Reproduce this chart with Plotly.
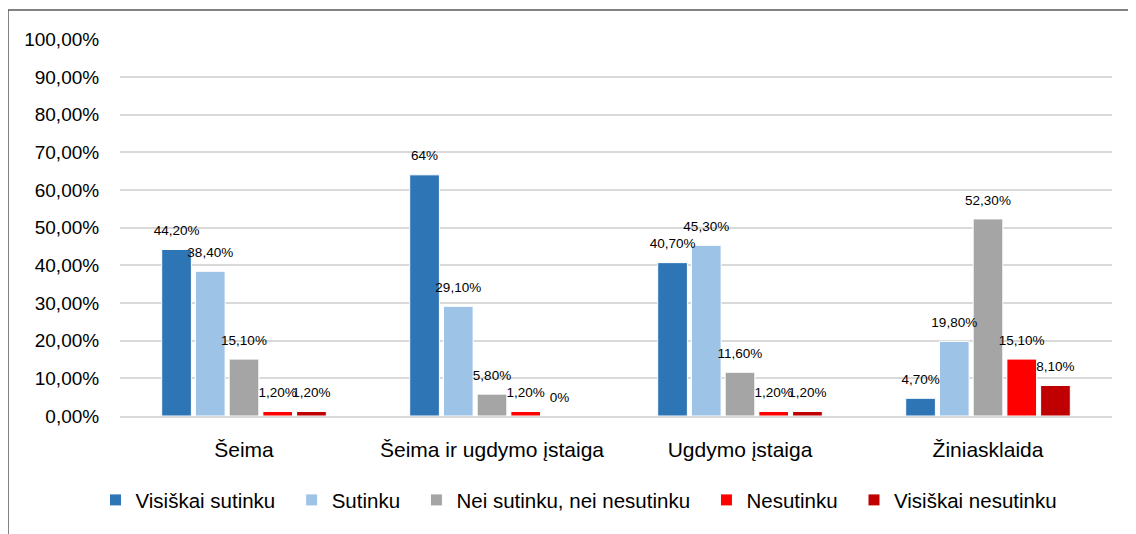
import plotly.graph_objects as go

categories = ["Šeima", "Šeima ir ugdymo įstaiga", "Ugdymo įstaiga", "Žiniasklaida"]
series_names = ["Visiškai sutinku", "Sutinku", "Nei sutinku, nei nesutinku", "Nesutinku", "Visiškai nesutinku"]
visiskai_sutinku = [0.442, 0.64, 0.407, 0.047]
sutinku = [0.384, 0.291, 0.453, 0.198]
nei_nei = [0.151, 0.058, 0.116, 0.523]
nesutinku = [0.012, 0.012, 0.012, 0.151]
visiskai_nesutinku = [0.012, 0.0, 0.012, 0.081]
labels_vs = ["44,20%", "64%", "40,70%", "4,70%"]
labels_s = ["38,40%", "29,10%", "45,30%", "19,80%"]
labels_nn = ["15,10%", "5,80%", "11,60%", "52,30%"]
labels_n = ["1,20%", "1,20%", "1,20%", "15,10%"]
labels_vn = ["1,20%", "0%", "1,20%", "8,10%"]
colors = ["#2E75B6", "#9DC3E6", "#A5A5A5", "#FF0000", "#C00000"]

values = [visiskai_sutinku, sutinku, nei_nei, nesutinku, visiskai_nesutinku]
labels = [labels_vs, labels_s, labels_nn, labels_n, labels_vn]

FONT = "Liberation Sans"
PAD = "\u00a0\u00a0"

fig = go.Figure()
for i, (name, vals, col) in enumerate(zip(series_names, values, colors)):
    legend_name = name + (PAD if i < len(series_names) - 1 else "")
    fig.add_trace(go.Bar(
        name=legend_name, x=categories, y=vals, offsetgroup=str(i),
        marker=dict(color=col, line=dict(color="white", width=1)),
        hoverinfo="skip",
    ))
for i, (name, vals, labs) in enumerate(zip(series_names, values, labels)):
    fig.add_trace(go.Scatter(
        x=categories, y=vals, text=labs, offsetgroup=str(i),
        mode="markers+text", textposition="top center", cliponaxis=False,
        marker=dict(size=16, opacity=0), showlegend=False, hoverinfo="skip",
        textfont=dict(family=FONT, size=13.5, color="#000000"),
    ))

fig.update_layout(
    width=1128, height=526,
    paper_bgcolor="white", plot_bgcolor="white",
    margin=dict(l=112, r=24, t=31, b=118),
    barmode="group", bargap=0.32, bargroupgap=0.12,
    scattermode="group", scattergap=0.32,
    separators=", ",
    font=dict(family=FONT, color="#000000"),
    showlegend=True,
    legend=dict(orientation="h", x=0.4627, xanchor="center", y=-0.223, yanchor="middle",
                font=dict(family=FONT, size=20.5, color="#000000"), itemwidth=30,
                traceorder="normal"),
    xaxis=dict(showgrid=False, showline=True, linecolor="#D9D9D9", linewidth=1.5,
               ticks="outside", ticklen=14, tickcolor="rgba(0,0,0,0)",
               tickfont=dict(family=FONT, size=21, color="#000000")),
    yaxis=dict(range=[0, 1.0005], tickvals=[i / 10 for i in range(11)], tickformat=".2%",
               showgrid=True, gridcolor="#D9D9D9", gridwidth=1.5, zeroline=False,
               ticks="outside", ticklen=16, tickcolor="rgba(0,0,0,0)",
               tickfont=dict(family=FONT, size=19, color="#000000")),
    shapes=[dict(type="path", xref="paper", yref="paper",
                 path="M -0.1129,-0.33 L -0.1129,1.0769 L 1.03,1.0769",
                 line=dict(color="#595959", width=1.5))],
)

fig.write_html("out.html")
